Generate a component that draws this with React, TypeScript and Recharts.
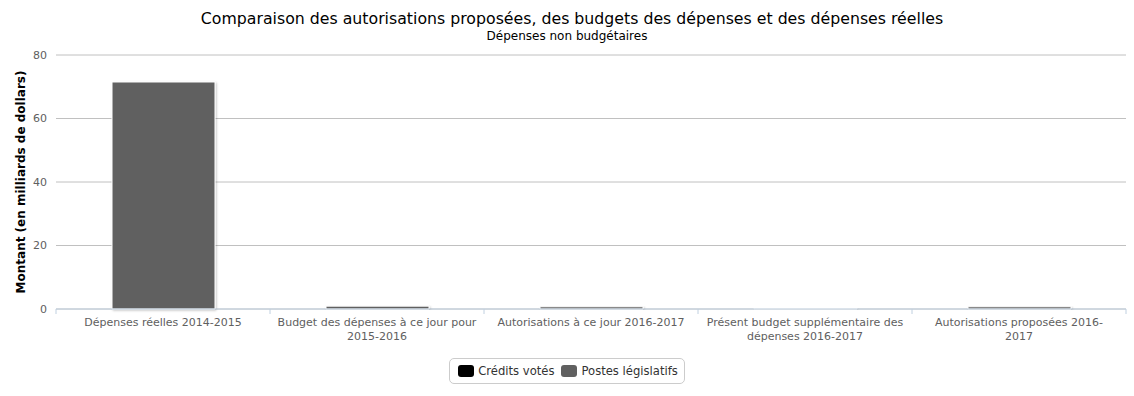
import React from "react";
import { BarChart, Bar, XAxis, YAxis, CartesianGrid, Legend } from "recharts";

const categories = [
  "Dépenses réelles 2014-2015",
  "Budget des dépenses à ce jour pour 2015-2016",
  "Autorisations à ce jour 2016-2017",
  "Présent budget supplémentaire des dépenses 2016-2017",
  "Autorisations proposées 2016-2017",
];
// how the category labels wrap in the original
const categoryLines = [
  ["Dépenses réelles 2014-2015"],
  ["Budget des dépenses à ce jour pour", "2015-2016"],
  ["Autorisations à ce jour 2016-2017"],
  ["Présent budget supplémentaire des", "dépenses 2016-2017"],
  ["Autorisations proposées 2016-", "2017"],
];
const creditsVotes = [0, 0, 0, 0, 0];
const postesLegislatifs = [71.5, 0.9, 0.7, 0.2, 0.7];
const yTicks = [0, 20, 40, 60, 80];

const W = 1134;
const H = 396;
const PLOT_LEFT = 56;
const PLOT_RIGHT = 8;
const BAND = (W - PLOT_LEFT - PLOT_RIGHT) / categories.length;

const data = categories.map((name, i) => ({
  name,
  votes: creditsVotes[i],
  legislatifs: postesLegislatifs[i],
}));

function XTick(props: any) {
  const { x, y, index } = props;
  const lines = categoryLines[index] ?? [props.payload.value];
  const left = x - BAND / 2;
  return (
    <g>
      <line x1={left} x2={left} y1={y} y2={y + 5} stroke="#C0D0E0" />
      {index === categories.length - 1 && (
        <line x1={x + BAND / 2} x2={x + BAND / 2} y1={y} y2={y + 5} stroke="#C0D0E0" />
      )}
      {lines.map((l: string, i: number) => (
        <text key={i} x={x} y={y + 17 + i * 14} textAnchor="middle" fill="#606060" fontSize={11}>
          {l}
        </text>
      ))}
    </g>
  );
}

function LegendBox(props: any) {
  const items = props.payload || [];
  return (
    <div style={{ display: "flex", justifyContent: "center" }}>
      <div
        style={{
          display: "flex",
          alignItems: "center",
          border: "1px solid #cccccc",
          borderRadius: 5,
          padding: "5px 6px 5px 8px",
          fontSize: 11.6,
          color: "#333333",
          background: "#fff",
        }}
      >
        {items.map((it: any, i: number) => (
          <div key={i} style={{ display: "flex", alignItems: "center", marginLeft: i ? 7 : 0 }}>
            <span
              style={{
                display: "inline-block",
                width: 16,
                height: 12,
                borderRadius: 3,
                background: it.color,
                marginRight: 4,
              }}
            />
            <span>{it.value}</span>
          </div>
        ))}
      </div>
    </div>
  );
}

export default function App() {
  return (
    <div style={{ position: "relative", width: W, height: H, fontFamily: "'DejaVu Sans', sans-serif", background: "#fff" }}>
      <style>{"body{margin:0}"}</style>
      <div style={{ position: "absolute", top: 9, left: 0, width: W, textAlign: "center", fontSize: 15.75, color: "#000000", paddingLeft: 10, boxSizing: "border-box" }}>
        Comparaison des autorisations proposées, des budgets des dépenses et des dépenses réelles
      </div>
      <div style={{ position: "absolute", top: 29, left: 0, width: W, textAlign: "center", fontSize: 12, color: "#000000" }}>
        Dépenses non budgétaires
      </div>
      <div
        style={{
          position: "absolute",
          left: 21,
          top: 182,
          transform: "translate(-50%, -50%) rotate(-90deg)",
          whiteSpace: "nowrap",
          fontSize: 12,
          fontWeight: "bold",
          color: "#000",
        }}
      >
        Montant (en milliards de dollars)
      </div>
      <BarChart width={W} height={H} data={data} margin={{ top: 55, right: PLOT_RIGHT, bottom: 57, left: 10 }}>
        <defs>
          <filter id="barShadow" x="-10%" y="-10%" width="130%" height="130%">
            <feDropShadow dx="1" dy="1" stdDeviation="1" floodColor="#000" floodOpacity="0.25" />
          </filter>
        </defs>
        <CartesianGrid vertical={false} stroke="#C0C0C0" />
        <XAxis
          dataKey="name"
          height={30}
          interval={0}
          tickLine={false}
          tickSize={0}
          tickMargin={0}
          stroke="#C0D0E0"
          tick={<XTick />}
        />
        <YAxis
          width={46}
          domain={[0, 80]}
          ticks={yTicks}
          axisLine={false}
          tickLine={false}
          tickMargin={3}
          tick={{ fill: "#606060", fontSize: 11 }}
        />
        <Legend
          verticalAlign="middle"
          align="center"
          wrapperStyle={{ position: "absolute", top: 358, left: 0, width: W }}
          content={<LegendBox />}
        />
        <Bar dataKey="votes" name="Crédits votés" stackId="a" fill="#000000" stroke="#ffffff" strokeWidth={1} barSize={103} filter="url(#barShadow)" isAnimationActive={false} />
        <Bar dataKey="legislatifs" name="Postes législatifs" stackId="a" fill="#606060" stroke="#ffffff" strokeWidth={1} barSize={103} filter="url(#barShadow)" isAnimationActive={false} />
      </BarChart>
    </div>
  );
}
